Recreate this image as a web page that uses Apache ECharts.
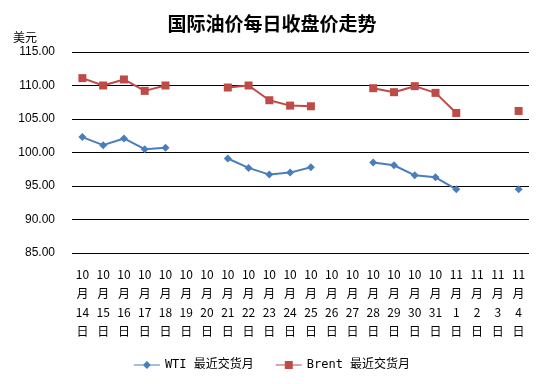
<!DOCTYPE html>
<html><head><meta charset="utf-8">
<script src="https://cdn.jsdelivr.net/npm/echarts@6/dist/echarts.min.js"></script>
<style>html,body{margin:0;padding:0;background:#fff}#c{width:544px;height:384px}</style>
</head><body><div id="c"></div>
<script>
const categories = ['10月14日','10月15日','10月16日','10月17日','10月18日','10月19日','10月20日','10月21日','10月22日','10月23日','10月24日','10月25日','10月26日','10月27日','10月28日','10月29日','10月30日','10月31日','11月1日','11月2日','11月3日','11月4日'];
const wti = [102.3,101.1,102.1,100.5,100.7,null,null,99.1,97.7,96.7,97.0,97.8,null,null,98.5,98.1,96.6,96.3,94.5,null,null,94.5];
const brent = [111.1,110.0,110.9,109.2,110.0,null,null,109.7,110.0,107.8,107.0,106.9,null,null,109.6,109.0,109.9,108.9,105.9,null,null,106.2];
const yTicks = {min:85, max:115, interval:5};

const chart = echarts.init(document.getElementById('c'));
chart.setOption({
  animation:false,
  title:{text:'国际油价每日收盘价走势', left:'center', top:9,
    textStyle:{fontSize:19, fontWeight:'bold', color:'#000', fontFamily:'Noto Sans CJK SC'}},
  grid:{left:72, right:15, top:52, bottom:131},
  legend:{bottom:8, left:'center', itemWidth:26, itemHeight:8, itemGap:22,
    textStyle:{fontSize:12, color:'#000', fontFamily:'DejaVu Sans Mono, Noto Sans CJK SC'},
    data:[{name:'WTI 最近交货月', icon:'path://M0,3.5L26,3.5L26,4.5L0,4.5Z M13,0L17,4L13,8L9,4Z'},
          {name:'Brent 最近交货月', icon:'path://M0,3.5L26,3.5L26,4.5L0,4.5Z M9,0L17,0L17,8L9,8Z'}]},
  xAxis:{type:'category', data:categories, boundaryGap:true,
    axisLine:{show:false}, axisTick:{show:false},
    axisLabel:{interval:0, margin:12, fontSize:12, lineHeight:19, color:'#000', fontFamily:'Noto Sans CJK SC',
      formatter:v=>{const m=v.match(/(\d+)月(\d+)日/); return m[1]+'\n月\n'+m[2]+'\n日';}}},
  yAxis:{type:'value', min:yTicks.min, max:yTicks.max, interval:yTicks.interval,
    name:'美元', nameLocation:'end', nameGap:9,
    nameTextStyle:{fontSize:12, color:'#000', align:'right', padding:[0,35,0,0], fontFamily:'Noto Sans CJK SC'},
    axisLine:{show:false}, axisTick:{show:false},
    axisLabel:{formatter:v=>v.toFixed(2), fontSize:12, color:'#000', margin:17, fontFamily:'Liberation Sans'},
    splitLine:{lineStyle:{color:'#000', width:1}}},
  series:[
    {name:'WTI 最近交货月', type:'line', data:wti, connectNulls:false, symbol:'diamond', symbolSize:8, showSymbol:true,
      itemStyle:{color:'#4A7EBB'}, lineStyle:{color:'#4A7EBB', width:2}},
    {name:'Brent 最近交货月', type:'line', data:brent, connectNulls:false, symbol:'rect', symbolSize:8, showSymbol:true,
      itemStyle:{color:'#BE4B48'}, lineStyle:{color:'#BE4B48', width:2}}
  ]
});
</script></body></html>
